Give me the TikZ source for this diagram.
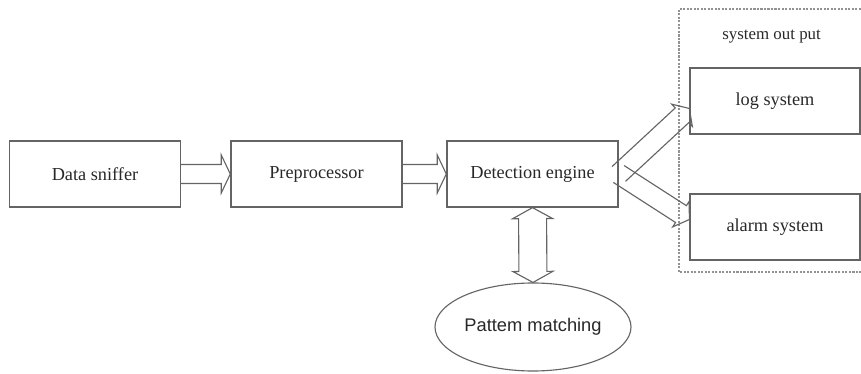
\documentclass[tikz,border=0pt]{standalone}
\usepackage{fontspec}
\setmainfont{Liberation Serif}
\newfontfamily\patfont{Liberation Sans}
\usetikzlibrary{calc, shapes.geometric}

\definecolor{linegray}{RGB}{100,100,100}
\definecolor{textgray}{RGB}{40,40,40}

\tikzset{
    block/.style={shape=rectangle, draw=linegray, line width=0.9pt, minimum width=4.28cm, minimum height=1.65cm, inner sep=0pt, text=textgray, font=\fontsize{13}{15}\selectfont},
    arrline/.style={draw=linegray, line width=0.8pt, line join=miter},
    outline/.style={draw=linegray!70, line width=0.8pt, dash pattern=on 1.5pt off 1pt}
}

\newcommand{\hollowarrow}[5]{
    \coordinate (ha-s) at (#4);
    \coordinate (ha-e) at (#5);
    \coordinate (ha-b) at ($(ha-e)!#3!(ha-s)$);
    \draw[arrline] ($(ha-s)!#1!90:(ha-e)$) -- ($(ha-b)!#1!-90:(ha-s)$) -- ($(ha-b)!#2!-90:(ha-s)$) -- (ha-e)
        -- ($(ha-b)!#2!90:(ha-s)$) -- ($(ha-b)!#1!90:(ha-s)$) -- ($(ha-s)!#1!-90:(ha-e)$);
}

\newcommand{\hollowdarrow}[5]{
    \coordinate (hd-s) at (#4);
    \coordinate (hd-e) at (#5);
    \coordinate (hd-a) at ($(hd-s)!#3!(hd-e)$);
    \coordinate (hd-b) at ($(hd-e)!#3!(hd-s)$);
    \draw[arrline] (hd-s) -- ($(hd-a)!#2!90:(hd-e)$) -- ($(hd-a)!#1!90:(hd-e)$) -- ($(hd-b)!#1!-90:(hd-s)$)
        -- ($(hd-b)!#2!-90:(hd-s)$) -- (hd-e) -- ($(hd-b)!#2!90:(hd-s)$) -- ($(hd-b)!#1!90:(hd-s)$)
        -- ($(hd-a)!#1!-90:(hd-e)$) -- ($(hd-a)!#2!-90:(hd-e)$) -- cycle;
}

\begin{document}
\begin{tikzpicture}
    \useasboundingbox (0,0) rectangle (21.525,9.35);

    \draw[outline] (16.975,2.55) rectangle (21.6,9.125);
    \node[text=textgray, font=\fontsize{12}{14}\selectfont] (title) at (19.29,8.425) {system out put};

    \node[block] (sniff) at (2.375,5.0) {Data sniffer};
    \node[block] (pre) at (7.9125,5.0) {Preprocessor};
    \node[block] (det) at (13.3125,5.0) {Detection engine};
    \node[block, minimum width=4.25cm] (log) at (19.375,6.825) {log system};
    \node[block, minimum width=4.25cm] (alarm) at (19.375,3.675) {alarm system};
    \node[shape=ellipse, draw=linegray, line width=0.8pt, minimum width=4.9cm, minimum height=2.2cm, inner sep=0pt,
        text=textgray, font=\patfont\fontsize{13}{15}\selectfont] (pat) at (13.325,1.175) {Pattem matching};

    \hollowarrow{0.2375cm}{0.475cm}{0.225cm}{sniff.east}{pre.west}
    \hollowarrow{0.2375cm}{0.475cm}{0.225cm}{pre.east}{det.west}
    \hollowarrow{0.25cm}{0.38cm}{0.25cm}{det.east}{log.-175}
    \hollowarrow{0.25cm}{0.38cm}{0.25cm}{det.east}{alarm.175}
    \hollowdarrow{0.35cm}{0.5cm}{0.275cm}{det.south}{pat.north}

\end{tikzpicture}
\end{document}
